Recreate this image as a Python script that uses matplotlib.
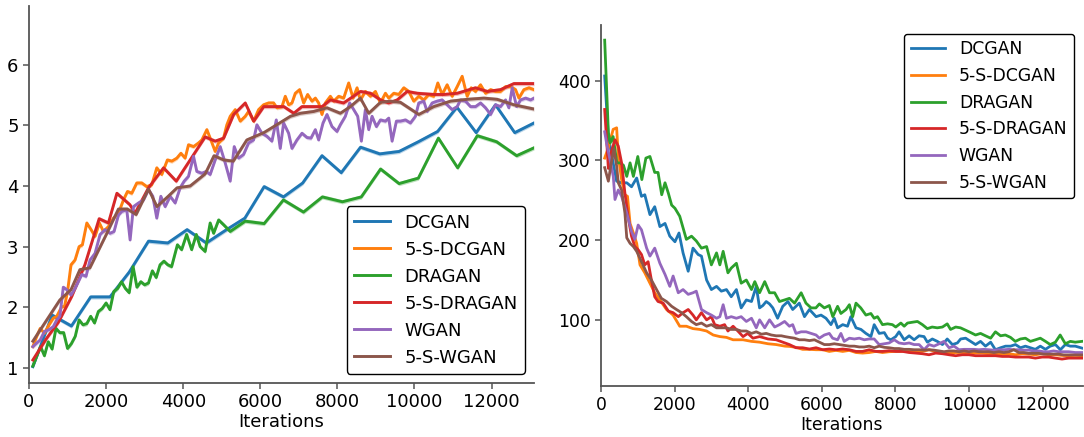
import numpy as np
import matplotlib
matplotlib.use("Agg")
import matplotlib.pyplot as plt

labels = ["DCGAN", "5-S-DCGAN", "DRAGAN", "5-S-DRAGAN", "WGAN", "5-S-WGAN"]
colors = ["#1f77b4", "#ff7f0e", "#2ca02c", "#d62728", "#9467bd", "#8c564b"]

# ---------------- left panel (score vs iterations) ----------------
left_dcgan = [(100, 1.02), (600, 1.87), (1100, 1.69), (1600, 2.17), (2100, 2.17), (2600, 2.58),
              (3100, 3.09), (3600, 3.06), (4100, 3.28), (4600, 3.06), (5100, 3.27), (5600, 3.47),
              (6100, 3.99), (6600, 3.82), (7100, 4.05), (7600, 4.50), (8100, 4.22), (8600, 4.64),
              (9100, 4.53), (9600, 4.57), (10100, 4.73), (10600, 4.90), (11100, 5.30), (11600, 4.88),
              (12100, 5.34), (12600, 4.88), (13100, 5.04)]

left_5s_dcgan = [(100, 1.35), (200, 1.52), (290, 1.65), (400, 1.57), (520, 1.71), (630, 1.82), (720, 1.85),
                 (850, 2.01), (920, 2.01), (1000, 2.26), (1090, 2.70), (1195, 2.78), (1300, 3.00), (1385, 3.03),
                 (1500, 3.39), (1610, 3.28), (1714, 3.17), (1826, 3.39), (1930, 3.25), (2060, 3.33), (2190, 3.47),
                 (2320, 3.55), (2450, 3.77), (2555, 3.91), (2666, 3.88), (2796, 4.05), (2925, 4.05), (3055, 3.99),
                 (3185, 4.02), (3315, 4.30), (3445, 4.19), (3590, 4.43), (3705, 4.41), (3835, 4.46), (3940, 4.54),
                 (4050, 4.46), (4138, 4.68), (4268, 4.65), (4397, 4.71), (4484, 4.76), (4614, 4.93), (4700, 4.79),
                 (4830, 4.57), (4917, 4.71), (5046, 4.79), (5133, 5.01), (5220, 5.15), (5350, 5.26), (5480, 5.07),
                 (5610, 5.15), (5696, 5.23), (5826, 5.07), (5956, 5.26), (6085, 5.34), (6215, 5.37), (6345, 5.37),
                 (6432, 5.29), (6562, 5.31), (6648, 5.48), (6735, 5.34), (6822, 5.37), (6908, 5.53), (7020, 5.59),
                 (7125, 5.37), (7228, 5.51), (7340, 5.40), (7428, 5.45), (7514, 5.37), (7600, 5.18), (7687, 5.37),
                 (7817, 5.48), (7904, 5.40), (8033, 5.48), (8163, 5.45), (8293, 5.70), (8406, 5.45), (8510, 5.62),
                 (8596, 5.42), (8726, 5.56), (8856, 5.48), (8986, 5.56), (9116, 5.37), (9246, 5.53), (9332, 5.45),
                 (9462, 5.53), (9592, 5.51), (9722, 5.62), (9852, 5.56), (9981, 5.40), (10111, 5.48), (10241, 5.42),
                 (10371, 5.51), (10500, 5.48), (10605, 5.70), (10717, 5.51), (10847, 5.67), (10977, 5.48),
                 (11107, 5.64), (11237, 5.81), (11366, 5.48), (11470, 5.62), (11583, 5.56), (11713, 5.67),
                 (11843, 5.53), (11973, 5.59), (12102, 5.56), (12232, 5.56), (12362, 5.64), (12492, 5.64),
                 (12622, 5.59), (12708, 5.45), (12838, 5.59), (12968, 5.62), (13098, 5.59)]

left_dragan = [(100, 1.03), (300, 1.35), (400, 1.20), (500, 1.43), (600, 1.31), (700, 1.65), (800, 1.58),
               (900, 1.58), (1000, 1.32), (1100, 1.40), (1200, 1.52), (1300, 1.79), (1400, 1.71), (1500, 1.73),
               (1600, 1.85), (1700, 1.74), (1800, 1.93), (1900, 1.98), (2000, 2.07), (2100, 1.96), (2200, 2.26),
               (2300, 2.31), (2400, 2.42), (2500, 2.31), (2600, 2.24), (2700, 2.67), (2800, 2.33), (2900, 2.42),
               (3000, 2.37), (3100, 2.40), (3200, 2.60), (3300, 2.49), (3400, 2.70), (3500, 2.76), (3600, 2.70),
               (3700, 2.67), (3850, 3.03), (3960, 2.95), (4090, 3.20), (4220, 2.95), (4340, 3.20), (4440, 3.00),
               (4570, 2.92), (4700, 3.39), (4790, 3.22), (4920, 3.44), (5050, 3.36), (5220, 3.25), (5610, 3.42),
               (6100, 3.38), (6600, 3.77), (7120, 3.57), (7610, 3.82), (8130, 3.74), (8620, 3.82), (9120, 4.28),
               (9600, 4.04), (10100, 4.13), (10620, 4.79), (11120, 4.30), (11630, 4.83), (12130, 4.73),
               (12650, 4.50), (13100, 4.63)]

left_5s_dragan = [(100, 1.13), (460, 1.49), (760, 1.75), (1110, 2.18), (1450, 2.70), (1820, 3.46), (2060, 3.39),
                  (2280, 3.88), (2620, 3.69), (2750, 3.55), (3100, 3.97), (3490, 4.30), (3820, 4.08), (4180, 4.43),
                  (4570, 4.81), (4830, 4.74), (5050, 4.79), (5310, 5.18), (5610, 5.37), (5830, 5.07), (6090, 5.31),
                  (6610, 5.31), (6870, 5.20), (7080, 5.31), (7300, 5.31), (7600, 5.31), (7820, 5.42), (8160, 5.37),
                  (8600, 5.56), (8860, 5.53), (9120, 5.42), (9330, 5.37), (9550, 5.42), (9810, 5.56), (10070, 5.53),
                  (10500, 5.51), (10760, 5.51), (11110, 5.53), (11580, 5.62), (11890, 5.56), (12230, 5.59),
                  (12580, 5.69), (13100, 5.69)]

left_wgan = [(100, 1.35), (200, 1.41), (290, 1.46), (400, 1.60), (520, 1.63), (630, 1.68), (720, 1.79),
             (800, 1.85), (890, 2.33), (980, 2.29), (1090, 2.20), (1195, 2.31), (1370, 2.54), (1480, 2.51),
             (1584, 2.78), (1714, 2.89), (1844, 3.20), (1973, 3.28), (2103, 3.22), (2207, 3.25), (2320, 3.52),
             (2406, 3.58), (2536, 3.61), (2623, 3.11), (2710, 3.66), (2840, 3.72), (2970, 3.77), (3100, 3.94),
             (3212, 3.83), (3315, 3.47), (3420, 3.83), (3532, 3.66), (3662, 3.83), (3792, 3.72), (3921, 3.97),
             (4025, 4.08), (4138, 4.16), (4268, 4.49), (4354, 4.24), (4484, 4.21), (4597, 4.24), (4700, 4.19),
             (4830, 4.43), (4960, 4.65), (5090, 4.38), (5220, 4.08), (5324, 4.65), (5436, 4.46), (5566, 4.52),
             (5696, 4.71), (5826, 4.76), (5912, 5.01), (6042, 4.87), (6172, 4.82), (6302, 4.74), (6415, 5.09),
             (6518, 4.62), (6605, 5.04), (6735, 4.87), (6822, 4.62), (6951, 4.76), (7081, 4.87), (7211, 4.80),
             (7315, 4.79), (7428, 4.93), (7514, 4.76), (7627, 5.04), (7730, 5.18), (7860, 4.98), (7990, 4.90),
             (8076, 5.01), (8206, 5.15), (8319, 5.37), (8423, 5.26), (8527, 5.15), (8622, 4.74), (8726, 5.26),
             (8813, 4.93), (8899, 5.15), (9012, 4.98), (9116, 5.09), (9246, 5.07), (9332, 5.12), (9419, 4.74),
             (9531, 5.07), (9635, 5.07), (9765, 5.09), (9895, 5.04), (10025, 5.15), (10111, 5.37), (10241, 5.40),
             (10327, 5.23), (10458, 5.37), (10587, 5.40), (10717, 5.42), (10847, 5.34), (10977, 5.26),
             (11107, 5.31), (11193, 5.42), (11323, 5.40), (11453, 5.31), (11583, 5.31), (11713, 5.37),
             (11843, 5.29), (11973, 5.18), (12102, 5.34), (12232, 5.31), (12362, 5.42), (12449, 5.29),
             (12535, 5.62), (12648, 5.31), (12752, 5.42), (12881, 5.45), (13011, 5.42), (13098, 5.45)]

left_5s_wgan = [(100, 1.44), (800, 2.12), (1090, 2.29), (1320, 2.62), (1580, 2.65), (2020, 3.22), (2320, 3.62),
                (2550, 3.62), (2780, 3.53), (3100, 3.95), (3320, 3.66), (3610, 3.83), (3840, 3.97), (4180, 4.00),
                (4570, 4.20), (4800, 4.50), (5050, 4.43), (5300, 4.41), (5650, 4.76), (6090, 4.88), (6400, 5.00),
                (6780, 5.15), (7040, 5.20), (7384, 5.23), (7730, 5.29), (8076, 5.20), (8337, 5.31), (8596, 5.45),
                (8813, 5.20), (9116, 5.38), (9375, 5.40), (9635, 5.38), (10111, 5.18), (10500, 5.31),
                (10934, 5.40), (11366, 5.43), (11800, 5.45), (12145, 5.43), (12578, 5.34), (13098, 5.27)]

# ---------------- right panel (distance vs iterations) ----------------
right_dcgan = [(100, 406), (200, 330), (330, 297), (425, 274), (560, 272), (700, 272), (830, 267), (970, 278),
               (1100, 255), (1190, 257), (1330, 232), (1460, 242), (1600, 217), (1740, 221), (1870, 205),
               (2010, 198), (2120, 209), (2230, 184), (2370, 161), (2500, 190), (2640, 182), (2730, 180),
               (2870, 150), (3000, 138), (3140, 142), (3270, 136), (3410, 138), (3540, 129), (3680, 138),
               (3810, 115), (3950, 125), (4090, 123), (4220, 142), (4310, 115), (4400, 118), (4490, 123),
               (4580, 120), (4670, 115), (4800, 102), (4940, 117), (5080, 123), (5210, 113), (5390, 121),
               (5530, 104), (5665, 113), (5845, 104), (5980, 106), (6115, 102), (6250, 94), (6340, 102),
               (6430, 90), (6570, 94), (6700, 92), (6790, 104), (6930, 90), (7065, 88), (7200, 83), (7335, 79),
               (7425, 94), (7560, 83), (7700, 84), (7790, 77), (7880, 75), (8010, 79), (8100, 85), (8240, 75),
               (8375, 80), (8510, 75), (8645, 80), (8780, 79), (8870, 72), (9005, 76), (9140, 73), (9280, 69),
               (9410, 76), (9550, 69), (9685, 71), (9775, 76), (9910, 77), (10045, 73), (10180, 69), (10315, 73),
               (10450, 67), (10590, 72), (10720, 62.5), (10860, 65), (10995, 67), (11130, 67), (11265, 69),
               (11400, 65), (11535, 67), (11670, 65), (11805, 63), (11940, 67), (12080, 63), (12210, 67),
               (12350, 69), (12485, 62.5), (12620, 69), (12755, 67), (12890, 67), (13070, 64.6)]

right_5s_dcgan = [(100, 303), (200, 316), (330, 339), (425, 341), (470, 305), (560, 276), (650, 257), (720, 255),
                  (790, 221), (880, 209), (970, 196), (1060, 169), (1190, 159), (1330, 146), (1460, 134),
                  (1600, 125), (1780, 113), (1960, 106), (2140, 92), (2320, 92), (2500, 89), (2680, 88),
                  (2870, 86), (3050, 81), (3230, 79), (3410, 78), (3590, 75), (3860, 75), (4090, 73), (4310, 72),
                  (4540, 70), (4760, 69), (5000, 67), (5120, 66.7), (5300, 65.5), (5480, 63), (5665, 63),
                  (5845, 62.5), (6025, 62.5), (6205, 60.4), (6385, 61.7), (6570, 60.4), (6750, 61.7), (6930, 59),
                  (7110, 58.3), (7290, 59), (7470, 60.4), (7650, 59), (7830, 60), (8010, 60.4), (8195, 60.4),
                  (8375, 60.4), (8555, 60.4), (8735, 60.4), (8915, 62.5), (9095, 60.4), (9280, 59.6), (9460, 58.3),
                  (9640, 59), (9820, 59), (10000, 58.3), (10180, 58.3), (10360, 58.3), (10540, 57.5), (10720, 57),
                  (10905, 57.5), (11085, 57.5), (11265, 56.2), (11445, 57.5), (11625, 57), (11805, 56.2),
                  (11990, 57.5), (12170, 56.2), (12350, 56.2), (12530, 55.4), (12710, 55), (12890, 55.4),
                  (13070, 55)]

right_dragan = [(100, 451), (200, 335), (250, 322), (330, 330), (430, 297), (520, 297), (610, 294), (700, 280),
                (790, 297), (880, 280), (1000, 305), (1110, 276), (1220, 303), (1330, 305), (1460, 285),
                (1550, 285), (1650, 257), (1740, 272), (1830, 259), (1920, 244), (2010, 240), (2140, 230),
                (2320, 201), (2460, 205), (2590, 199), (2730, 190), (2870, 192), (3000, 169), (3140, 184),
                (3230, 169), (3320, 186), (3450, 159), (3540, 165), (3680, 171), (3810, 146), (3950, 150),
                (4090, 138), (4180, 148), (4310, 134), (4450, 148), (4580, 134), (4720, 134), (4850, 123),
                (4990, 125), (5120, 127), (5260, 121), (5440, 134), (5570, 121), (5710, 115), (5840, 115),
                (5935, 120), (6070, 115), (6205, 118), (6300, 104), (6430, 117), (6520, 108), (6660, 113),
                (6750, 119), (6840, 104), (6930, 121), (7060, 115), (7200, 106), (7335, 108), (7425, 102),
                (7515, 104), (7650, 94), (7790, 95), (7920, 94), (8010, 91), (8150, 96), (8240, 92), (8330, 96),
                (8460, 97), (8600, 98), (8735, 94), (8870, 89), (9000, 91), (9140, 90), (9280, 91), (9410, 95),
                (9500, 88), (9640, 91), (9770, 90), (9910, 87), (10050, 84), (10180, 81), (10315, 83),
                (10450, 80), (10590, 77), (10720, 85), (10860, 80), (10990, 81), (11130, 78), (11260, 73),
                (11400, 76), (11535, 77), (11670, 73), (11810, 75), (11940, 77), (12080, 73), (12210, 69),
                (12350, 72), (12480, 81), (12620, 70), (12755, 73), (12890, 72), (13070, 73)]

right_5s_dragan = [(100, 364), (200, 290), (280, 311), (380, 326), (470, 318), (560, 297), (650, 259),
                   (740, 228), (830, 205), (920, 192), (1010, 188), (1100, 182), (1190, 169), (1280, 173),
                   (1370, 150), (1460, 129), (1550, 123), (1690, 121), (1830, 111), (1960, 109), (2100, 104),
                   (2230, 109), (2370, 113), (2500, 106), (2590, 100), (2730, 109), (2870, 100), (3000, 104),
                   (3090, 94), (3230, 92), (3360, 94), (3450, 86), (3590, 92), (3720, 86), (3860, 79), (3990, 83),
                   (4130, 77), (4310, 79), (4540, 76), (4760, 75), (5000, 71), (5120, 69), (5300, 65), (5480, 65),
                   (5665, 63.4), (5845, 65), (6025, 62.5), (6205, 63.4), (6385, 62.5), (6570, 63.4), (6750, 62.5),
                   (6930, 60.4), (7110, 60.4), (7290, 62.5), (7470, 60.4), (7650, 60.4), (7830, 61.3),
                   (8010, 60.4), (8195, 60.4), (8375, 59), (8555, 58.3), (8735, 57.5), (8915, 56.2), (9095, 58.3),
                   (9280, 57.5), (9460, 56.2), (9640, 55), (9820, 56.2), (10000, 56.2), (10180, 55), (10360, 55),
                   (10540, 55), (10720, 55), (10905, 54.1), (11085, 54.1), (11265, 53.3), (11445, 53.3),
                   (11625, 53.3), (11805, 52), (11990, 53.3), (12170, 53.3), (12350, 52), (12530, 50.8),
                   (12710, 52), (12890, 52), (13070, 52)]

right_wgan = [(100, 336), (150, 322), (244, 301), (334, 280), (380, 251), (470, 263), (560, 255), (700, 234),
              (830, 211), (920, 201), (1010, 219), (1100, 213), (1240, 190), (1330, 180), (1460, 190),
              (1600, 171), (1740, 157), (1870, 142), (1960, 155), (2100, 134), (2230, 138), (2370, 132),
              (2500, 134), (2590, 136), (2730, 113), (2870, 109), (3000, 106), (3140, 102), (3230, 104),
              (3320, 119), (3410, 102), (3540, 104), (3680, 102), (3810, 104), (3950, 98), (4090, 102),
              (4220, 90), (4310, 100), (4450, 90), (4580, 100), (4720, 91), (4850, 94), (4990, 98), (5120, 92),
              (5210, 94), (5300, 83), (5440, 85), (5575, 85), (5710, 83), (5845, 81), (5935, 77), (6070, 81),
              (6205, 83), (6295, 77), (6430, 75), (6520, 83), (6610, 73), (6750, 77), (6885, 76), (7020, 77),
              (7155, 75), (7290, 76), (7425, 76), (7560, 69), (7700, 70), (7830, 71), (7970, 75), (8100, 71),
              (8240, 70), (8375, 71), (8510, 69), (8645, 69), (8780, 62.5), (8915, 69), (9050, 67), (9190, 70),
              (9320, 73), (9460, 65), (9595, 67), (9730, 62.5), (9865, 63), (10000, 63), (10135, 63),
              (10270, 62.5), (10405, 63), (10540, 62.5), (10680, 62), (10815, 62.5), (10950, 62.5),
              (11085, 63), (11220, 62.5), (11355, 62.5), (11490, 62), (11625, 62), (11760, 61), (11900, 61),
              (12030, 60), (12170, 60), (12300, 61), (12440, 60), (12575, 60), (12710, 60), (12890, 59),
              (13070, 59)]

right_5s_wgan = [(100, 291), (200, 274), (280, 297), (350, 315), (425, 293), (470, 272), (560, 263), (650, 234),
                 (700, 203), (790, 196), (880, 192), (970, 186), (1100, 173), (1240, 159), (1370, 150),
                 (1510, 138), (1640, 127), (1780, 123), (1920, 117), (2050, 113), (2190, 109), (2320, 104),
                 (2460, 98), (2590, 94), (2730, 96), (2870, 92), (3000, 94), (3140, 90), (3270, 90), (3410, 90),
                 (3540, 88), (3680, 88), (3810, 86), (3950, 86), (4090, 83), (4220, 85), (4360, 82), (4490, 83),
                 (4630, 81), (4760, 80), (4900, 80), (5000, 79), (5120, 78), (5260, 77), (5390, 75), (5530, 75),
                 (5665, 74), (5800, 75), (5935, 72), (6070, 69), (6205, 69), (6340, 70), (6480, 69), (6610, 68),
                 (6750, 67), (6885, 67), (7020, 66), (7155, 66), (7290, 67), (7425, 65), (7560, 67), (7700, 65.5),
                 (7830, 65), (7970, 64), (8100, 64), (8240, 63), (8375, 63), (8510, 62.5), (8645, 62.5),
                 (8780, 62), (8915, 62.5), (9050, 62), (9190, 61), (9320, 60), (9460, 61), (9595, 61), (9730, 60),
                 (9865, 61), (10000, 60), (10135, 61), (10270, 60), (10405, 60), (10540, 60), (10680, 59),
                 (10815, 60), (10950, 59), (11085, 60), (11220, 62.5), (11355, 59), (11490, 59), (11625, 58),
                 (11760, 58), (11900, 58), (12030, 57), (12170, 57), (12300, 57), (12440, 57), (12575, 56),
                 (12710, 56), (12890, 56), (13070, 56)]

left_series = [left_dcgan, left_5s_dcgan, left_dragan, left_5s_dragan, left_wgan, left_5s_wgan]
right_series = [right_dcgan, right_5s_dcgan, right_dragan, right_5s_dragan, right_wgan, right_5s_wgan]

x_ticks = [0, 2000, 4000, 6000, 8000, 10000, 12000]
left_yticks = [1, 2, 3, 4, 5, 6]
right_yticks = [100, 200, 300, 400]

FS_LEFT = 13
FS_RIGHT = 12.4
fig = plt.figure(figsize=(10.84, 4.37), dpi=100)
ax1 = fig.add_axes([29 / 1084, 1 - 383 / 437, (534 - 29) / 1084, (383 - 6) / 437])
ax2 = fig.add_axes([601 / 1084, 1 - 386 / 437, (1083 - 601) / 1084, (386 - 25) / 437])


def style(ax, fs):
    for s in ("top", "right"):
        ax.spines[s].set_visible(False)
    for s in ("left", "bottom"):
        ax.spines[s].set_color("#555555")
        ax.spines[s].set_linewidth(1.3)
    ax.tick_params(axis="both", colors="#555555", labelcolor="black", labelsize=fs, length=4, width=1.1)
    ax.set_xlabel("Iterations", fontsize=fs, labelpad=1)
    ax.set_xticks(x_ticks)
    ax.set_xlim(0, 13100)


for data, lab, col in zip(left_series, labels, colors):
    xs = np.array([p[0] for p in data], dtype=float)
    ys = np.array([p[1] for p in data], dtype=float)
    ax1.fill_between(xs, ys - 0.035, ys + 0.035, color=col, alpha=0.3, linewidth=0)
    ax1.plot(xs, ys, color=col, lw=2.1, label=lab)

for data, lab, col in zip(right_series, labels, colors):
    xs = np.array([p[0] for p in data], dtype=float)
    ys = np.array([p[1] for p in data], dtype=float)
    ax2.plot(xs, ys, color=col, lw=2.0, label=lab)

style(ax1, FS_LEFT)
style(ax2, FS_RIGHT)
ax1.set_yticks(left_yticks)
ax1.set_ylim(0.75, 6.97)
ax2.set_yticks(right_yticks)
ax2.set_ylim(17, 470)

for ax, loc, fs in ((ax1, "lower right", FS_LEFT), (ax2, "upper right", FS_RIGHT)):
    leg = ax.legend(loc=loc, fontsize=fs, frameon=True, fancybox=True, framealpha=1.0,
                    borderaxespad=0.5, handlelength=2.0)
    leg.get_frame().set_edgecolor("black")
    leg.get_frame().set_linewidth(1.0)

fig.savefig("out.png", dpi=100)
